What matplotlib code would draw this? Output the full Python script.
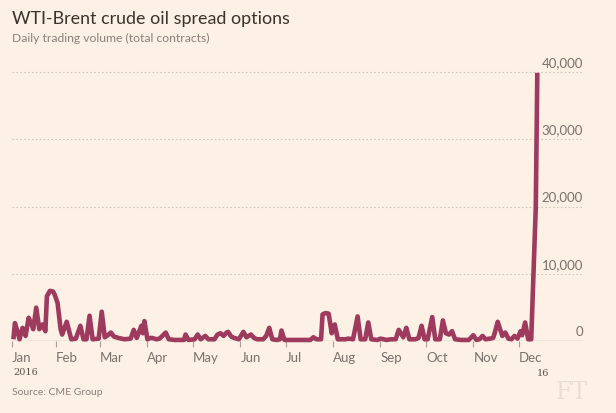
import matplotlib
matplotlib.use('Agg')
import matplotlib.pyplot as plt
import pandas as pd

# ---- data ----
day_labels = [
    "01-04", "01-05", "01-07", "01-08", "01-10", "01-12", "01-14", "01-16", "01-17", "01-19",
    "01-21", "01-23", "01-25", "01-26", "01-28", "01-30", "01-31", "02-02", "02-04", "02-05",
    "02-08", "02-10", "02-11", "02-14", "02-17", "02-19", "02-21", "02-23", "02-25", "02-29",
    "03-02", "03-04", "03-06", "03-08", "03-10", "03-13", "03-17", "03-21", "03-23", "03-25",
    "03-28", "03-29", "03-30", "04-01", "04-03", "04-04", "04-07", "04-09", "04-13", "04-15",
    "04-19", "04-25", "04-26", "04-28", "05-02", "05-04", "05-06", "05-09", "05-11", "05-15",
    "05-17", "05-19", "05-21", "05-23", "05-24", "05-26", "05-28", "05-31", "06-03", "06-05",
    "06-08", "06-10", "06-12", "06-16", "06-18", "06-20", "06-22", "06-25", "06-27", "06-28",
    "06-30", "07-11", "07-17", "07-19", "07-21", "07-24", "07-25", "07-27", "07-29", "07-31",
    "08-02", "08-04", "08-09", "08-11", "08-14", "08-17", "08-19", "08-22", "08-24", "08-26",
    "08-30", "09-01", "09-05", "09-08", "09-11", "09-13", "09-16", "09-18", "09-20", "09-24",
    "09-26", "09-28", "09-30", "10-02", "10-05", "10-07", "10-10", "10-12", "10-14", "10-16",
    "10-18", "10-20", "10-24", "10-29", "11-01", "11-03", "11-05", "11-07", "11-09", "11-12",
    "11-14", "11-15", "11-17", "11-19", "11-20", "11-22", "11-24", "11-26", "11-28", "11-30",
    "12-02", "12-03", "12-05", "12-07", "12-09", "12-12", "12-13",
]
volumes = [
    300, 2700, 1200, 300, 2000, 800, 3500, 2500, 1800, 5000,
    1800, 2500, 1500, 6700, 7500, 7400, 7000, 5700, 1800, 1000,
    2900, 1200, 300, 400, 2300, 300, 300, 3800, 300, 400,
    4400, 600, 900, 1300, 700, 500, 300, 400, 1700, 500,
    2300, 1200, 3000, 300, 500, 500, 300, 400, 1300, 300,
    200, 200, 1000, 200, 300, 1000, 300, 800, 300, 300,
    1000, 1200, 800, 1300, 1400, 700, 500, 300, 1400, 600,
    1000, 500, 300, 300, 800, 2000, 300, 200, 300, 1600,
    200, 200, 200, 600, 300, 300, 4000, 4200, 4100, 1200,
    2500, 300, 300, 400, 300, 3700, 300, 300, 2800, 300,
    200, 400, 200, 300, 300, 1700, 600, 2000, 300, 300,
    500, 2300, 300, 300, 3600, 300, 300, 3100, 1200, 1000,
    1500, 300, 200, 200, 900, 200, 300, 800, 300, 400,
    500, 1200, 2900, 1500, 800, 1300, 400, 300, 800, 400,
    1500, 900, 2800, 300, 300, 20000, 39900,
]
month_labels = ["Jan", "Feb", "Mar", "Apr", "May", "Jun",
                "Jul", "Aug", "Sep", "Oct", "Nov", "Dec"]
y_ticks = [0, 10000, 20000, 30000, 40000]
y_tick_labels = ["0", "10,000", "20,000", "30,000", "40,000"]

dates = pd.to_datetime(["2016-" + d for d in day_labels])

BG = "#fdf0e4"
LINE = "#9d3a5e"
GREY = "#7a726c"

plt.rcParams['font.family'] = ['Lato', 'DejaVu Sans']

fig = plt.figure(figsize=(6.16, 4.14), dpi=100)
fig.patch.set_facecolor(BG)

ax = fig.add_axes([12 / 616, (414 - 342.3) / 414, 571 / 616, (342.3 - 59.7) / 414])
ax.set_facecolor(BG)

x_left = pd.Timestamp("2016-01-03 02:00")
x_right = pd.Timestamp("2017-01-12")
ax.set_xlim(x_left, x_right)
ax.set_ylim(0, 42000)

# gridlines (dotted)
for yv in y_ticks[1:]:
    ax.axhline(yv, color="#cfc6be", lw=0.8, ls=(0, (1.5, 2)), zorder=1)
ax.axhline(0, color="#a59d96", lw=0.9, zorder=2)

ax.plot(dates, volumes, color=LINE, lw=3.3, solid_joinstyle='round',
        solid_capstyle='butt', zorder=3, clip_on=False)

for s in ax.spines.values():
    s.set_visible(False)

# y labels on the right, above the gridline
ax.set_yticks([])
for yv, lab in zip(y_ticks, y_tick_labels):
    ax.annotate(lab, xy=(1, yv), xycoords=('axes fraction', 'data'),
                xytext=(0, 3), textcoords='offset points',
                ha='right', va='bottom', fontsize=9.5, color=GREY)

# x ticks at month starts
month_ticks = [x_left] + list(pd.date_range("2016-02-01", "2016-12-01", freq="MS"))
ax.set_xticks(month_ticks)
ax.set_xticklabels(month_labels, fontsize=9.5, color=GREY, ha='left')
ax.tick_params(axis='x', length=4, width=0.8, color="#a59d96", pad=3)

# year labels
fig.text(13 / 616, 1 - 373 / 414, "2016", fontsize=7, color="#5a524c",
         family="DejaVu Serif", va='center', ha='left')
fig.text(537 / 616, 1 - 374 / 414, "16", fontsize=7, color="#5a524c",
         family="DejaVu Serif", va='center', ha='left')

# titles
fig.text(12 / 616, 1 - 19 / 414, "WTI-Brent crude oil spread options",
         fontsize=12.9, color="#3a332e", va='center', ha='left')
fig.text(12 / 616, 1 - 38 / 414, "Daily trading volume (total contracts)",
         fontsize=8.7, color="#8a817a", va='center', ha='left')

fig.text(12 / 616, 1 - 393 / 414, "Source: CME Group",
         fontsize=7.5, color="#8a817a", va='center', ha='left')
fig.text(588 / 616, 1 - 393 / 414, "FT", fontsize=17, color="#eaddd1",
         family="DejaVu Serif", va='center', ha='right')

fig.savefig("out.png", dpi=100, facecolor=BG)
